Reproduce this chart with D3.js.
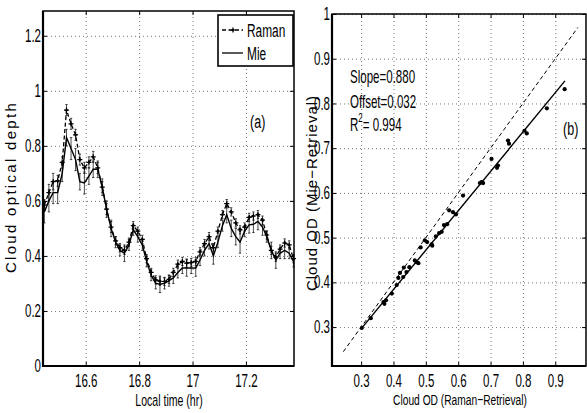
<!DOCTYPE html>
<html>
<head>
<meta charset="utf-8">
<script src="https://cdn.jsdelivr.net/npm/d3@7"></script>
<style>
  body { margin: 0; background: #fff; }
  svg { display: block; }
  .tk text { font-family: "Liberation Sans", Arial, sans-serif; font-size: 17.5px; fill: #000; }
  .tk line { stroke: #000; stroke-width: 1; }
  .tk path { display: none; }
  .grid line { stroke: #666; stroke-width: 0.9; stroke-dasharray: 1,3; }
  .grid path { display: none; }
  .grid text { display: none; }
  .nar { font-family: "Liberation Sans", Arial, sans-serif; fill: #000; }
  .reg { font-family: "Liberation Sans", Arial, sans-serif; fill: #000; }
</style>
</head>
<body>
<script>
// ---- panel (a): time series ----
var timeHr = [16.445, 16.462, 16.478, 16.495, 16.512, 16.528, 16.545, 16.562, 16.578, 16.595,
  16.612, 16.628, 16.645, 16.662, 16.678, 16.695, 16.712, 16.728, 16.745, 16.762,
  16.778, 16.795, 16.812, 16.828, 16.845, 16.862, 16.878, 16.895, 16.912, 16.928,
  16.945, 16.962, 16.978, 16.995, 17.012, 17.028, 17.045, 17.062, 17.078, 17.095,
  17.112, 17.128, 17.145, 17.162, 17.178, 17.195, 17.212, 17.228, 17.245, 17.262,
  17.278, 17.295, 17.312, 17.328, 17.345, 17.362, 17.378];
var ramanOD = [0.585, 0.63, 0.67, 0.673, 0.74, 0.93, 0.88, 0.84, 0.75, 0.72,
  0.74, 0.76, 0.72, 0.65, 0.57, 0.505, 0.455, 0.43, 0.42, 0.45,
  0.51, 0.49, 0.46, 0.39, 0.34, 0.313, 0.308, 0.307, 0.315, 0.34,
  0.37, 0.38, 0.374, 0.376, 0.38, 0.415, 0.445, 0.47, 0.43, 0.49,
  0.55, 0.59, 0.56, 0.52, 0.495, 0.505, 0.54, 0.545, 0.55, 0.53,
  0.476, 0.42, 0.395, 0.425, 0.447, 0.44, 0.39];
var mieOD = [0.56, 0.60, 0.63, 0.63, 0.70, 0.83, 0.79, 0.75, 0.67, 0.665,
  0.69, 0.715, 0.715, 0.65, 0.57, 0.50, 0.45, 0.42, 0.41, 0.44,
  0.495, 0.47, 0.44, 0.38, 0.33, 0.30, 0.297, 0.30, 0.31, 0.32,
  0.34, 0.356, 0.356, 0.356, 0.356, 0.385, 0.42, 0.445, 0.40, 0.45,
  0.51, 0.55, 0.50, 0.47, 0.45, 0.49, 0.513, 0.515, 0.525, 0.505,
  0.47, 0.42, 0.385, 0.41, 0.42, 0.41, 0.38];
var ramanErr = [0.02, 0.03, 0.03, 0.02, 0.02, 0.02, 0.02, 0.02, 0.02, 0.02,
  0.02, 0.02, 0.02, 0.02, 0.02, 0.02, 0.015, 0.015, 0.015, 0.015,
  0.015, 0.015, 0.015, 0.015, 0.015, 0.015, 0.015, 0.015, 0.015, 0.015,
  0.015, 0.015, 0.015, 0.015, 0.015, 0.015, 0.015, 0.015, 0.015, 0.015,
  0.015, 0.015, 0.015, 0.015, 0.015, 0.015, 0.015, 0.015, 0.015, 0.015,
  0.015, 0.015, 0.015, 0.015, 0.015, 0.015, 0.015];
var mieErr = [0.04, 0.04, 0.04, 0.04, 0.03, 0.03, 0.04, 0.04, 0.03, 0.04,
  0.03, 0.03, 0.03, 0.03, 0.03, 0.03, 0.02, 0.02, 0.03, 0.02,
  0.02, 0.02, 0.02, 0.02, 0.02, 0.02, 0.03, 0.02, 0.02, 0.02,
  0.02, 0.02, 0.03, 0.02, 0.03, 0.02, 0.02, 0.02, 0.03, 0.02,
  0.02, 0.03, 0.03, 0.03, 0.04, 0.02, 0.03, 0.03, 0.03, 0.03,
  0.02, 0.03, 0.03, 0.02, 0.03, 0.02, 0.02];
var timeTicks = [16.6, 16.8, 17, 17.2];
var timeTickLabels = ["16.6", "16.8", "17", "17.2"];
var odTicks = [0, 0.2, 0.4, 0.6, 0.8, 1, 1.2];
var odTickLabels = ["0", "0.2", "0.4", "0.6", "0.8", "1", "1.2"];
var seriesNames = ["Raman", "Mie"];

// ---- panel (b): scatter ----
var scatRaman = [0.302, 0.33, 0.369, 0.372, 0.377, 0.395, 0.41, 0.415, 0.42, 0.43,
  0.432, 0.44, 0.449, 0.466, 0.472, 0.477, 0.484, 0.497, 0.504, 0.518,
  0.52, 0.531, 0.541, 0.549, 0.556, 0.566, 0.572, 0.584, 0.593, 0.615,
  0.667, 0.672, 0.677, 0.703, 0.72, 0.723, 0.754, 0.757, 0.805, 0.812,
  0.874, 0.929];
var scatMie = [0.298, 0.32, 0.356, 0.352, 0.36, 0.375, 0.394, 0.41, 0.421, 0.412,
  0.433, 0.423, 0.434, 0.449, 0.445, 0.443, 0.478, 0.494, 0.49, 0.485,
  0.482, 0.503, 0.51, 0.513, 0.528, 0.53, 0.561, 0.557, 0.552, 0.594,
  0.622, 0.624, 0.622, 0.676, 0.656, 0.661, 0.717, 0.71, 0.739, 0.733,
  0.789, 0.832];
var fitSlope = 0.880, fitOffset = 0.032, fitR2 = 0.994;
var fitRange = [0.30, 0.93];
var oneToOne = [0.245, 0.97];
var bxTicks = [0.3, 0.4, 0.5, 0.6, 0.7, 0.8, 0.9];
var bxTickLabels = ["0.3", "0.4", "0.5", "0.6", "0.7", "0.8", "0.9"];
var byTicks = [0.3, 0.4, 0.5, 0.6, 0.7, 0.8, 0.9, 1];
var byTickLabels = ["0.3", "0.4", "0.5", "0.6", "0.7", "0.8", "0.9", "1"];

var W = 587, H = 413;
var NARROW = 0.66; // horizontal squeeze, the original uses a condensed Helvetica
var svg = d3.select("body").append("svg").attr("width", W).attr("height", H);

// condensed text placed at (x, y)
function ntext(g, x, y, size, anchor, str) {
    return g.append("text").attr("class", "nar")
        .attr("transform", "translate(" + x + "," + y + ") scale(" + NARROW + ",1)")
        .attr("text-anchor", anchor).style("font-size", size + "px").text(str);
}

function frame(g, x, y, xt, xl, yt, yl) {
    var x0 = x.range()[0], x1 = x.range()[1], y0 = y.range()[0], y1 = y.range()[1];
    // dotted grid
    g.append("g").attr("class", "grid").attr("transform", "translate(0," + y0 + ")")
        .call(d3.axisBottom(x).tickValues(xt).tickSize(-(y0 - y1)));
    g.append("g").attr("class", "grid").attr("transform", "translate(" + x0 + ",0)")
        .call(d3.axisLeft(y).tickValues(yt).tickSize(-(x1 - x0)));
    // ticks, inward, on all four sides
    g.append("g").attr("class", "tk").attr("transform", "translate(0," + y0 + ")")
        .call(d3.axisBottom(x).tickValues(xt).tickSize(-4).tickPadding(9)
            .tickFormat(function(d, i) { return xl[i]; }))
        .selectAll("text").attr("transform", "scale(" + NARROW + ",1)");
    g.append("g").attr("class", "tk").attr("transform", "translate(" + x0 + ",0)")
        .call(d3.axisLeft(y).tickValues(yt).tickSize(-4).tickPadding(3)
            .tickFormat(function(d, i) { return yl[i]; }))
        .selectAll("text").attr("transform", "scale(" + NARROW + ",1)");
    g.append("g").attr("class", "tk").attr("transform", "translate(0," + y1 + ")")
        .call(d3.axisTop(x).tickValues(xt).tickSize(-4).tickFormat(""));
    g.append("g").attr("class", "tk").attr("transform", "translate(" + x1 + ",0)")
        .call(d3.axisRight(y).tickValues(yt).tickSize(-4).tickFormat(""));
    g.append("rect")
        .attr("x", x0).attr("y", y1).attr("width", x1 - x0).attr("height", y0 - y1)
        .attr("fill", "none").attr("stroke", "#000").attr("stroke-width", 1.5);
    g.append("path")
        .attr("d", "M" + x0 + "," + y1 + "V" + y0 + "H" + x1)
        .attr("fill", "none").attr("stroke", "#000").attr("stroke-width", 2.2);
}

// ===== panel (a) =====
var xa = d3.scaleLinear().domain([16.44, 17.38]).range([43, 294]);
var ya = d3.scaleLinear().domain([0, 1.29]).range([366, 11]);
var ga = svg.append("g");
frame(ga, xa, ya, timeTicks, timeTickLabels, odTicks, odTickLabels);

var ptsR = timeHr.map(function(t, i) { return {t: t, v: ramanOD[i], e: ramanErr[i]}; });
var ptsM = timeHr.map(function(t, i) { return {t: t, v: mieOD[i], e: mieErr[i]}; });

function errbars(pts) {
    var eg = ga.append("g").attr("stroke", "#000").attr("stroke-width", 0.7).attr("fill", "none");
    eg.selectAll("path").data(pts).enter().append("path")
        .attr("d", function(d) {
            var x = xa(d.t), a = ya(d.v - d.e), b = ya(d.v + d.e);
            return "M" + x + "," + a + "V" + b +
                "M" + (x - 1.2) + "," + a + "h2.4M" + (x - 1.2) + "," + b + "h2.4";
        });
}
errbars(ptsM);
errbars(ptsR);

var lineA = d3.line().x(function(d) { return xa(d.t); }).y(function(d) { return ya(d.v); });
ga.append("path").datum(ptsM).attr("d", lineA)
    .attr("fill", "none").attr("stroke", "#000").attr("stroke-width", 1.4);
ga.append("path").datum(ptsR).attr("d", lineA)
    .attr("fill", "none").attr("stroke", "#000").attr("stroke-width", 1.3)
    .attr("stroke-dasharray", "4,2.5");
var plus = "M-2.5,0H2.5M0,-2.5V2.5";
ga.append("g").selectAll("path").data(ptsR).enter().append("path")
    .attr("transform", function(d) { return "translate(" + xa(d.t) + "," + ya(d.v) + ")"; })
    .attr("d", plus).attr("stroke", "#000").attr("stroke-width", 1.2);
ga.append("g").selectAll("circle").data(ptsR).enter().append("circle")
    .attr("cx", function(d) { return xa(d.t); }).attr("cy", function(d) { return ya(d.v); })
    .attr("r", 1.2).attr("fill", "#000");

// legend
var lg = ga.append("g");
lg.append("rect").attr("x", 218).attr("y", 15).attr("width", 75).attr("height", 51)
    .attr("fill", "#fff").attr("stroke", "#000").attr("stroke-width", 1.6);
seriesNames.forEach(function(name, i) {
    var yy = 30 + i * 23;
    var ln = lg.append("line").attr("x1", 222).attr("x2", 243).attr("y1", yy).attr("y2", yy)
        .attr("stroke", "#000").attr("stroke-width", 1.3);
    if (i === 0) {
        ln.attr("stroke-dasharray", "4,2.5");
        lg.append("path").attr("transform", "translate(233," + yy + ")").attr("d", plus)
            .attr("stroke", "#000").attr("stroke-width", 1.2);
        lg.append("circle").attr("cx", 233).attr("cy", yy).attr("r", 1.2).attr("fill", "#000");
    }
    ntext(lg, 247, yy + 6.5, 18, "start", name);
});

ntext(ga, 250, 128, 19, "start", "(a)");
ntext(ga, 169, 406, 16, "middle", "Local time (hr)");
ga.append("text").attr("class", "reg")
    .attr("transform", "translate(16,187) rotate(-90)")
    .attr("text-anchor", "middle").style("font-size", "15px").style("letter-spacing", "2.3px")
    .text("Cloud optical depth");

// ===== panel (b) =====
var xb = d3.scaleLinear().domain([0.21, 0.995]).range([332, 586]);
var yb = d3.scaleLinear().domain([0.213, 1]).range([366, 14]);
var gb = svg.append("g");
frame(gb, xb, yb, bxTicks, bxTickLabels, byTicks, byTickLabels);

gb.append("line")
    .attr("x1", xb(oneToOne[0])).attr("y1", yb(oneToOne[0]))
    .attr("x2", xb(oneToOne[1])).attr("y2", yb(oneToOne[1]))
    .attr("stroke", "#000").attr("stroke-width", 1).attr("stroke-dasharray", "4,3");
gb.append("line")
    .attr("x1", xb(fitRange[0])).attr("y1", yb(fitSlope * fitRange[0] + fitOffset))
    .attr("x2", xb(fitRange[1])).attr("y2", yb(fitSlope * fitRange[1] + fitOffset))
    .attr("stroke", "#000").attr("stroke-width", 1.4);
gb.append("g").selectAll("circle").data(scatRaman).enter().append("circle")
    .attr("cx", function(d) { return xb(d); })
    .attr("cy", function(d, i) { return yb(scatMie[i]); })
    .attr("r", 2.1).attr("fill", "#000");

ntext(gb, 350, 83, 17.5, "start", "Slope=" + fitSlope.toFixed(3));
ntext(gb, 350, 108, 17.5, "start", "Offset=" + fitOffset.toFixed(3));
var r2 = ntext(gb, 350, 131, 17.5, "start", "");
r2.append("tspan").text("R");
r2.append("tspan").attr("dy", -9).style("font-size", "12px").text("2");
r2.append("tspan").attr("dy", 9).text("= " + fitR2.toFixed(3));
ntext(gb, 563, 135, 19, "start", "(b)");
ntext(gb, 460, 405, 15.5, "middle", "Cloud OD (Raman\u2212Retrieval)");
gb.append("text").attr("class", "reg")
    .attr("transform", "translate(317,193) rotate(-90)")
    .attr("text-anchor", "middle").style("font-size", "15px").style("letter-spacing", "1px")
    .text("Cloud OD  (Mie\u2212Retrieval)");
</script>
</body>
</html>
